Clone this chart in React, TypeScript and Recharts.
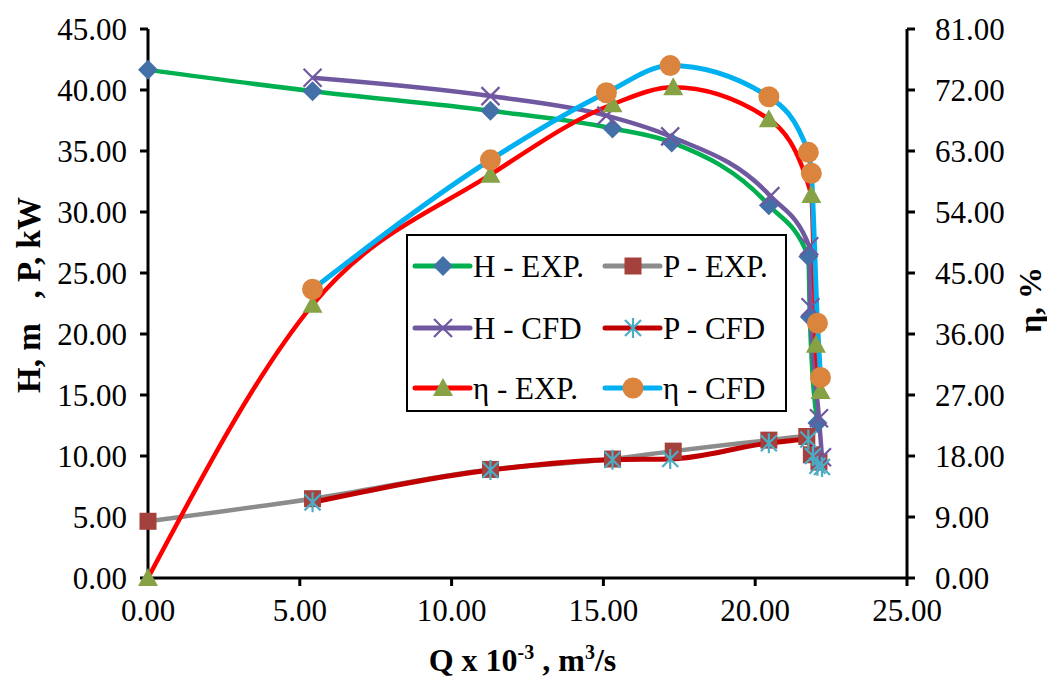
import React from 'react';
import { LineChart, Line, XAxis, YAxis, Legend } from 'recharts';

// Q x 10^-3 (m3/s) and values for each series
const qHExp = [0, 5.42, 11.28, 15.3, 17.25, 20.45, 21.75, 21.8, 22.05];
const hExp = [41.65, 39.9, 38.3, 36.85, 35.7, 30.55, 26.35, 21.4, 12.7];

const qPExp = [0, 5.42, 11.28, 15.3, 17.3, 20.45, 21.7, 21.85, 22.1];
const pExp = [4.65, 6.5, 8.9, 9.75, 10.4, 11.3, 11.6, 10.1, 9.5];

const qHCfd = [5.42, 11.28, 15.1, 17.2, 20.5, 21.78, 21.82, 22.1, 22.2];
const hCfd = [41.0, 39.5, 37.9, 36.2, 31.3, 27.2, 22.2, 13.1, 9.9];

const qPCfd = [5.42, 11.28, 15.3, 17.2, 20.45, 21.75, 21.9, 22.05, 22.2];
const pCfd = [6.2, 8.85, 9.7, 9.75, 11.05, 11.35, 10.0, 9.2, 9.1];

const qEtaExp = [0, 5.42, 11.28, 15.3, 17.3, 20.45, 21.85, 22.0, 22.15];
const etaExp = [0, 40.3, 59.5, 69.9, 72.4, 67.7, 56.5, 34.4, 27.6];

const qEtaCfd = [5.42, 11.28, 15.1, 17.2, 20.45, 21.75, 21.85, 22.05, 22.15];
const etaCfd = [42.6, 61.7, 71.6, 75.6, 71.0, 62.8, 59.7, 37.6, 29.6];

const xTicks = [0, 5, 10, 15, 20, 25];
const leftTicks = [0, 5, 10, 15, 20, 25, 30, 35, 40, 45];
const rightTicks = [0, 9, 18, 27, 36, 45, 54, 63, 72, 81];

const seriesNames = ['H - EXP.', 'P - EXP.', 'H - CFD', 'P - CFD', 'η - EXP.', 'η - CFD'];

const zip = (qs: number[], vs: number[]) => qs.map((q, i) => ({ q, v: vs[i] }));

type Kind = 'diamond' | 'square' | 'x' | 'star' | 'triangle' | 'circle';

const series = [
  { name: seriesNames[0], data: zip(qHExp, hExp), axis: 'left', stroke: '#00B050', width: 4.5, kind: 'diamond' as Kind, mark: '#4470A8' },
  { name: seriesNames[1], data: zip(qPExp, pExp), axis: 'left', stroke: '#8C8C8C', width: 4.5, kind: 'square' as Kind, mark: '#A5413C' },
  { name: seriesNames[2], data: zip(qHCfd, hCfd), axis: 'left', stroke: '#7058A0', width: 4.5, kind: 'x' as Kind, mark: '#7058A0' },
  { name: seriesNames[3], data: zip(qPCfd, pCfd), axis: 'left', stroke: '#C00000', width: 5, kind: 'star' as Kind, mark: '#4BACC6' },
  { name: seriesNames[4], data: zip(qEtaExp, etaExp), axis: 'right', stroke: '#FF0000', width: 4.5, kind: 'triangle' as Kind, mark: '#86A244' },
  { name: seriesNames[5], data: zip(qEtaCfd, etaCfd), axis: 'right', stroke: '#00B0F0', width: 5, kind: 'circle' as Kind, mark: '#DB843D' },
];

function Marker({ kind, cx, cy, color }: { kind: Kind; cx: number; cy: number; color: string }) {
  switch (kind) {
    case 'diamond':
      return <path d={`M${cx},${cy - 10}L${cx + 10},${cy}L${cx},${cy + 10}L${cx - 10},${cy}Z`} fill={color} />;
    case 'square':
      return <rect x={cx - 8.5} y={cy - 8.5} width={17} height={17} fill={color} />;
    case 'x':
      return (
        <path d={`M${cx - 9},${cy - 9}L${cx + 9},${cy + 9}M${cx - 9},${cy + 9}L${cx + 9},${cy - 9}`} stroke={color} strokeWidth={2.2} fill="none" />
      );
    case 'star':
      return (
        <path
          d={`M${cx - 8},${cy - 8}L${cx + 8},${cy + 8}M${cx - 8},${cy + 8}L${cx + 8},${cy - 8}M${cx},${cy - 10}L${cx},${cy + 10}`}
          stroke={color}
          strokeWidth={2.2}
          fill="none"
        />
      );
    case 'triangle':
      return <path d={`M${cx},${cy - 10}L${cx + 10},${cy + 8}L${cx - 10},${cy + 8}Z`} fill={color} />;
    case 'circle':
    default:
      return <circle cx={cx} cy={cy} r={10.5} fill={color} />;
  }
}

const fmt = (v: number) => v.toFixed(2);

const serif = '"Liberation Serif", "Times New Roman", serif';
const tickStyle = { fill: '#000', fontSize: 31, fontFamily: serif };
const axisStroke = { stroke: '#000', strokeWidth: 3 };

function LegendBox() {
  const rows = [
    [series[0], series[1]],
    [series[2], series[3]],
    [series[4], series[5]],
  ];
  const rowY = [34, 96, 156];
  const colX = [9, 199];
  return (
    <div style={{ width: 381, height: 178, border: '2px solid #000', boxSizing: 'border-box', background: '#fff' }}>
      <svg width={377} height={174} style={{ display: 'block', position: 'absolute', left: 0, top: 0 }}>
        {rows.map((row, r) =>
          row.map((s, c) => {
            const x0 = colX[c];
            const y = rowY[r] - 2;
            return (
              <g key={`${r}-${c}`}>
                <line x1={x0} x2={x0 + 55} y1={y} y2={y} stroke={s.stroke} strokeWidth={5} strokeLinecap="round" />
                <Marker kind={s.kind} cx={x0 + 28} cy={y} color={s.mark} />
                <text x={x0 + 58} y={y} dy="0.35em" fontSize={31} fontFamily={serif} fill="#000">
                  {s.name}
                </text>
              </g>
            );
          })
        )}
      </svg>
    </div>
  );
}

export default function App() {
  return (
    <LineChart width={1047} height={669} margin={{ top: 21, right: 0, bottom: 0, left: 0 }}>
      <XAxis
        type="number"
        dataKey="q"
        domain={[0, 25]}
        ticks={xTicks}
        tickFormatter={fmt}
        axisLine={axisStroke}
        tickLine={axisStroke}
        tickSize={8}
        tickMargin={13}
        tick={tickStyle}
        height={99}
        allowDuplicatedCategory={false}
        label={(props: any) => {
          const vb = props.viewBox || {};
          const cx = (vb.x ?? 140) + (vb.width ?? 759) / 2;
          return (
            <text x={cx - 5} y={663} textAnchor="middle" fontSize={32} fontWeight="bold" fontFamily={serif} fill="#000">
              Q x 10
              <tspan fontSize={20} dy={-12}>-3</tspan>
              <tspan dy={12}> , m</tspan>
              <tspan fontSize={20} dy={-12}>3</tspan>
              <tspan dy={12}>/s</tspan>
            </text>
          );
        }}
      />
      <YAxis
        yAxisId="left"
        orientation="left"
        domain={[0, 45]}
        ticks={leftTicks}
        tickFormatter={fmt}
        axisLine={axisStroke}
        tickLine={axisStroke}
        tickSize={8}
        tickMargin={13}
        tick={tickStyle}
        width={140}
        label={() => (
          <text
            x={20}
            y={287}
            transform="rotate(-90 20 287)"
            textAnchor="middle"
            dy="0.35em"
            fontSize={33}
            fontWeight="bold"
            fontFamily={serif}
            fill="#000"
            style={{ whiteSpace: 'pre' }}
          >
            {'H, m   , P, kW'}
          </text>
        )}
      />
      <YAxis
        yAxisId="right"
        orientation="right"
        domain={[0, 81]}
        ticks={rightTicks}
        tickFormatter={fmt}
        axisLine={axisStroke}
        tickLine={axisStroke}
        tickSize={8}
        tickMargin={20}
        tick={tickStyle}
        width={148}
        label={() => (
          <text
            x={1022}
            y={292}
            transform="rotate(-90 1022 292)"
            textAnchor="middle"
            dy="0.35em"
            fontSize={32}
            fontWeight="bold"
            fontFamily={serif}
            fill="#000"
          >
            η, %
          </text>
        )}
      />
      {series.map((s) => (
        <Line
          key={s.name}
          name={s.name}
          data={s.data}
          dataKey="v"
          yAxisId={s.axis}
          type="monotone"
          stroke={s.stroke}
          strokeWidth={s.width}
          isAnimationActive={false}
          dot={(p: any) => <Marker key={`${s.name}-${p.index}`} kind={s.kind} cx={p.cx} cy={p.cy} color={s.mark} />}
          activeDot={false}
        />
      ))}
      <Legend
        layout="vertical"
        align="center"
        verticalAlign="middle"
        content={() => <LegendBox />}
        wrapperStyle={{ position: 'absolute', left: 398, top: 226, width: 381, height: 178 }}
      />
    </LineChart>
  );
}
